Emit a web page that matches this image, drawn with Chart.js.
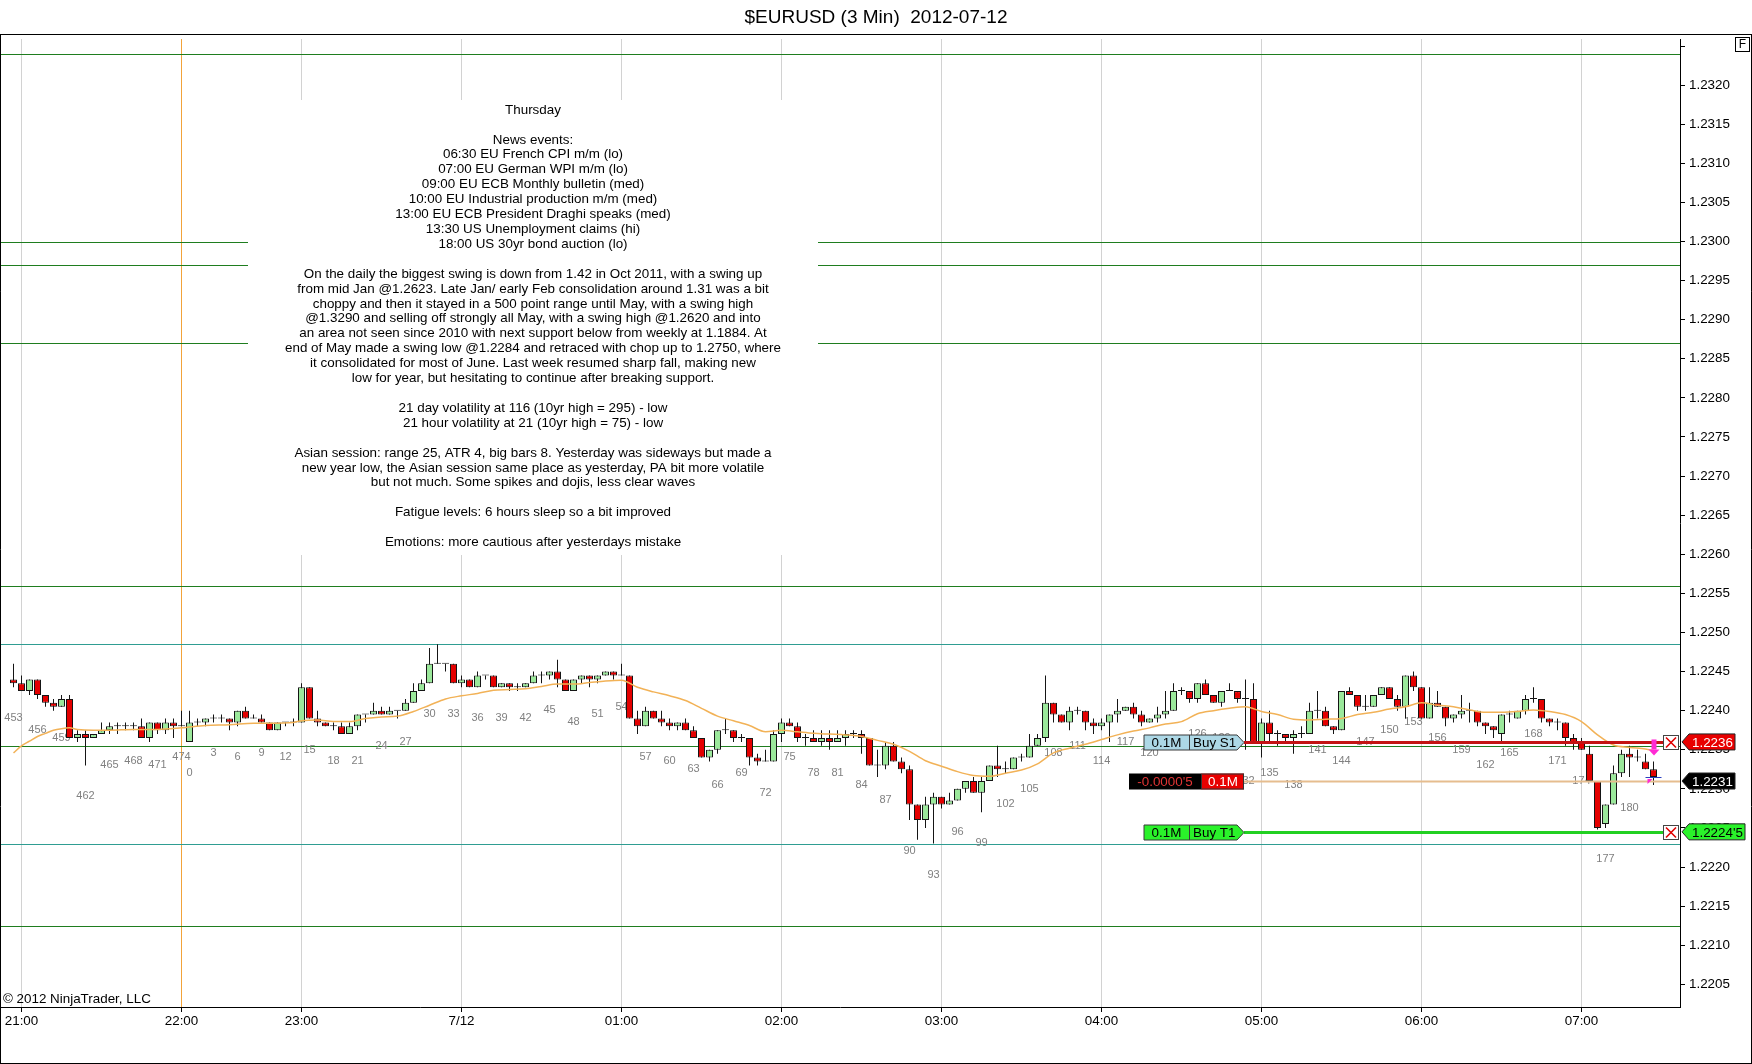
<!DOCTYPE html>
<html>
<head>
<meta charset="utf-8">
<title>$EURUSD (3 Min) 2012-07-12</title>
<script src="https://cdn.jsdelivr.net/npm/chart.js@4.4.1/dist/chart.umd.min.js"></script>
<style>
  html, body { margin: 0; padding: 0; background: #fff; }
  #priceChart { display: block; }
</style>
</head>
<body>
<canvas id="priceChart" width="1752" height="1064"></canvas>
<script>
// 3 minute bars: 22 bars of the old session (numbered 453..474), then the new session from 0
var firstBarIndex = -22;
var firstBarNumber = 453;

var open = [
  1.2244, 1.22435, 1.22425, 1.2244, 1.2242, 1.2241, 1.22405, 1.22415, 1.22365, 1.2237, 1.22365,
  1.2237, 1.22375, 1.2238, 1.2238, 1.2238, 1.2238, 1.22365, 1.22385, 1.22375, 1.22385, 1.2238,
  1.2236, 1.22385, 1.22385, 1.2239, 1.2239, 1.2239, 1.22385, 1.224, 1.2239, 1.2239,
  1.22385, 1.22375, 1.22385, 1.22385, 1.22385, 1.2243, 1.2239, 1.22385, 1.2238, 1.2238,
  1.2237, 1.2238, 1.22395, 1.22395, 1.224, 1.22395, 1.224, 1.224, 1.2241, 1.22425,
  1.22435, 1.2246, 1.2246, 1.2246, 1.22435, 1.2244, 1.2243, 1.22445, 1.22445, 1.2243,
  1.22435, 1.2243, 1.2243, 1.22435, 1.22445, 1.22445, 1.2245, 1.2244, 1.22425, 1.2244,
  1.22445, 1.2244, 1.22445, 1.2245, 1.22445, 1.22445, 1.2239, 1.2238, 1.224, 1.2239,
  1.22385, 1.2238, 1.22385, 1.22375, 1.22365, 1.2234, 1.2235, 1.22375, 1.22375, 1.22365,
  1.22365, 1.2234, 1.22335, 1.22335, 1.2237, 1.22385, 1.2238, 1.22365, 1.22365, 1.2236,
  1.22365, 1.2236, 1.22365, 1.2237, 1.2237, 1.22365, 1.2233, 1.2233, 1.22355, 1.22335,
  1.22325, 1.2228, 1.2226, 1.2228, 1.2229, 1.2228, 1.22285, 1.223, 1.2231, 1.22295,
  1.2231, 1.2233, 1.22325, 1.22325, 1.2234, 1.2234, 1.22355, 1.22365, 1.2241, 1.22395,
  1.22385, 1.224, 1.224, 1.22385, 1.2238, 1.22385, 1.22395, 1.224, 1.22405, 1.22395,
  1.22385, 1.2239, 1.22395, 1.224, 1.22425, 1.22425, 1.22415, 1.22435, 1.2242, 1.2241,
  1.22425, 1.22425, 1.22415, 1.22415, 1.2236, 1.22385, 1.2237, 1.2237, 1.22365, 1.2237,
  1.2237, 1.224, 1.224, 1.2238, 1.22375, 1.22425, 1.2242, 1.22405, 1.22405, 1.2242,
  1.2243, 1.22415, 1.22405, 1.22445, 1.2243, 1.2239, 1.2241, 1.22405, 1.2239, 1.22395,
  1.224, 1.224, 1.22385, 1.2238, 1.2237, 1.22395, 1.2239, 1.224, 1.22415, 1.22415,
  1.2239, 1.22385, 1.22385, 1.22365, 1.2236, 1.22345, 1.2231, 1.22255, 1.2228, 1.2232,
  1.22345, 1.2234, 1.22335, 1.22325
];
var high = [
  1.2246, 1.22445, 1.2244, 1.2244, 1.2242, 1.22415, 1.2242, 1.2242, 1.22375, 1.22375, 1.2237,
  1.22385, 1.22385, 1.22385, 1.22385, 1.22385, 1.2239, 1.22385, 1.22385, 1.2239, 1.2239, 1.224,
  1.224, 1.2239, 1.2239, 1.22395, 1.22395, 1.2239, 1.224, 1.22405, 1.22395, 1.22395,
  1.22385, 1.22385, 1.22385, 1.2239, 1.22435, 1.2243, 1.224, 1.22385, 1.22385, 1.22385,
  1.22385, 1.22395, 1.22395, 1.2241, 1.22405, 1.22405, 1.224, 1.22415, 1.22435, 1.2244,
  1.2248, 1.22485, 1.2246, 1.2246, 1.22445, 1.2244, 1.2245, 1.22445, 1.22445, 1.22435,
  1.22435, 1.22435, 1.22435, 1.2245, 1.2245, 1.2245, 1.22465, 1.2244, 1.2244, 1.22445,
  1.22445, 1.22445, 1.2245, 1.2245, 1.2246, 1.22445, 1.224, 1.22405, 1.224, 1.224,
  1.2239, 1.22385, 1.2239, 1.2238, 1.22365, 1.2235, 1.22375, 1.2239, 1.22375, 1.2237,
  1.22365, 1.22345, 1.2235, 1.22375, 1.2239, 1.2239, 1.22385, 1.2237, 1.22375, 1.22375,
  1.22375, 1.22375, 1.22375, 1.22375, 1.22375, 1.22365, 1.2235, 1.2236, 1.2236, 1.2234,
  1.2233, 1.2228, 1.2229, 1.22295, 1.2229, 1.22295, 1.223, 1.2231, 1.22315, 1.22315,
  1.2233, 1.22355, 1.22335, 1.2234, 1.22345, 1.2237, 1.2237, 1.22445, 1.2241, 1.22395,
  1.22405, 1.22405, 1.224, 1.2239, 1.2239, 1.22395, 1.22415, 1.22405, 1.2241, 1.224,
  1.2239, 1.22405, 1.22425, 1.22435, 1.2243, 1.22425, 1.22435, 1.2244, 1.2242, 1.22425,
  1.22435, 1.22425, 1.2244, 1.22435, 1.2239, 1.224, 1.22375, 1.2237, 1.22375, 1.2238,
  1.2241, 1.22425, 1.22405, 1.2238, 1.22425, 1.2243, 1.2242, 1.2242, 1.2242, 1.2243,
  1.2243, 1.2242, 1.22445, 1.2245, 1.2243, 1.2243, 1.22425, 1.22405, 1.22395, 1.2242,
  1.2241, 1.224, 1.22385, 1.2238, 1.22395, 1.224, 1.224, 1.2242, 1.2243, 1.22415,
  1.2239, 1.2239, 1.22385, 1.2237, 1.22365, 1.22355, 1.2231, 1.2228, 1.2233, 1.2235,
  1.22355, 1.2235, 1.22345, 1.22335
];
var low = [
  1.2243, 1.22425, 1.2242, 1.22415, 1.22405, 1.224, 1.22405, 1.22365, 1.2236, 1.2233, 1.22365,
  1.2237, 1.2237, 1.2237, 1.22375, 1.22375, 1.22365, 1.2236, 1.2237, 1.2237, 1.22365, 1.2238,
  1.2236, 1.2238, 1.2238, 1.22385, 1.22385, 1.22375, 1.2238, 1.2239, 1.2239, 1.22385,
  1.22375, 1.22375, 1.2238, 1.2238, 1.22385, 1.2239, 1.2238, 1.2238, 1.22375, 1.2237,
  1.2237, 1.22375, 1.22385, 1.22395, 1.22395, 1.22395, 1.2239, 1.224, 1.2241, 1.22425,
  1.22435, 1.2246, 1.2245, 1.22435, 1.2243, 1.2243, 1.2243, 1.2244, 1.2243, 1.2243,
  1.22425, 1.22425, 1.2243, 1.22435, 1.22435, 1.2244, 1.2243, 1.22425, 1.22425, 1.22435,
  1.2243, 1.22435, 1.22445, 1.2244, 1.22445, 1.2239, 1.2237, 1.2238, 1.2239, 1.2238,
  1.22375, 1.22375, 1.22375, 1.22365, 1.2234, 1.22335, 1.22345, 1.2237, 1.2236, 1.2236,
  1.2233, 1.2233, 1.22335, 1.22335, 1.2236, 1.2238, 1.2236, 1.22355, 1.2236, 1.22355,
  1.2235, 1.2236, 1.22355, 1.22365, 1.22345, 1.2233, 1.22315, 1.22325, 1.22335, 1.2232,
  1.2226, 1.22235, 1.2225, 1.2223, 1.22275, 1.2228, 1.22285, 1.22295, 1.22295, 1.2227,
  1.2231, 1.22315, 1.2232, 1.22325, 1.22335, 1.2234, 1.22355, 1.2236, 1.22385, 1.22385,
  1.22375, 1.22395, 1.22375, 1.2237, 1.22375, 1.2236, 1.22385, 1.224, 1.2239, 1.2238,
  1.22385, 1.22385, 1.2239, 1.224, 1.2242, 1.2241, 1.2241, 1.2242, 1.2241, 1.22405,
  1.22425, 1.2241, 1.2235, 1.2236, 1.2234, 1.2236, 1.22355, 1.2236, 1.22345, 1.22365,
  1.2237, 1.2239, 1.2238, 1.2237, 1.22375, 1.2242, 1.224, 1.224, 1.22405, 1.2242,
  1.22415, 1.224, 1.2239, 1.22425, 1.2239, 1.2239, 1.22405, 1.2238, 1.22385, 1.2239,
  1.22385, 1.2238, 1.2237, 1.22365, 1.2236, 1.22385, 1.2239, 1.22395, 1.2241, 1.22385,
  1.2238, 1.22375, 1.22355, 1.2235, 1.2235, 1.2231, 1.22248, 1.2225, 1.2228, 1.22315,
  1.22315, 1.22335, 1.22325, 1.22305
];
var close = [
  1.22435, 1.22425, 1.2244, 1.2242, 1.2241, 1.22405, 1.22415, 1.22365, 1.2237, 1.22365, 1.2237,
  1.22375, 1.2238, 1.2238, 1.2238, 1.2238, 1.22365, 1.22385, 1.22375, 1.22385, 1.2238, 1.2238,
  1.22385, 1.22385, 1.2239, 1.2239, 1.2239, 1.22385, 1.224, 1.2239, 1.2239, 1.22385,
  1.22375, 1.22385, 1.22385, 1.22385, 1.2243, 1.2239, 1.22385, 1.2238, 1.2238, 1.2237,
  1.2238, 1.22395, 1.22395, 1.224, 1.22395, 1.224, 1.224, 1.2241, 1.22425, 1.22435,
  1.2246, 1.2246, 1.2246, 1.22435, 1.2244, 1.2243, 1.22445, 1.22445, 1.2243, 1.22435,
  1.2243, 1.2243, 1.22435, 1.22445, 1.22445, 1.2245, 1.2244, 1.22425, 1.2244, 1.22445,
  1.2244, 1.22445, 1.2245, 1.22445, 1.22445, 1.2239, 1.2238, 1.224, 1.2239, 1.22385,
  1.2238, 1.22385, 1.22375, 1.22365, 1.2234, 1.2235, 1.22375, 1.22375, 1.22365, 1.22365,
  1.2234, 1.22335, 1.22335, 1.2237, 1.22385, 1.2238, 1.22365, 1.22365, 1.2236, 1.22365,
  1.2236, 1.22365, 1.2237, 1.2237, 1.22365, 1.2233, 1.2233, 1.22355, 1.22335, 1.22325,
  1.2228, 1.2226, 1.2228, 1.2229, 1.2228, 1.22285, 1.223, 1.2231, 1.22295, 1.2231,
  1.2233, 1.22325, 1.22325, 1.2234, 1.2234, 1.22355, 1.22365, 1.2241, 1.22395, 1.22385,
  1.224, 1.224, 1.22385, 1.2238, 1.22385, 1.22395, 1.224, 1.22405, 1.22395, 1.22385,
  1.2239, 1.22395, 1.224, 1.22425, 1.22425, 1.22415, 1.22435, 1.2242, 1.2241, 1.22425,
  1.22425, 1.22415, 1.22415, 1.2236, 1.22385, 1.2237, 1.2237, 1.22365, 1.2237, 1.2237,
  1.224, 1.224, 1.2238, 1.22375, 1.22425, 1.2242, 1.22405, 1.22405, 1.2242, 1.2243,
  1.22415, 1.22405, 1.22445, 1.2243, 1.2239, 1.2241, 1.22405, 1.2239, 1.22395, 1.224,
  1.224, 1.22385, 1.2238, 1.22375, 1.22395, 1.22395, 1.224, 1.22415, 1.22415, 1.2239,
  1.22385, 1.22385, 1.22365, 1.2236, 1.2235, 1.2231, 1.2225, 1.2228, 1.2232, 1.22345,
  1.2234, 1.2234, 1.22325, 1.22315
];

// moving average
var emaBars = [
  -22, -21, -20, -19, -18, -17, -16, -15, -14, -12, -10, -7, -4, -1, 2, 5, 8, 10, 13, 14,
  16, 18, 20, 22, 24, 26, 28, 30, 32, 34, 36, 38, 40, 42, 44, 46, 48, 50, 52, 54,
  56, 58, 60, 62, 64, 66, 68, 70, 72, 74, 76, 78, 80, 82, 84, 86, 88, 90, 92, 94,
  96, 98, 100, 102, 104, 106, 108, 110, 112, 114, 116, 118, 120, 122, 124, 126, 128, 130, 132, 134,
  136, 138, 140, 142, 144, 146, 148, 150, 152, 154, 156, 158, 160, 162, 164, 166, 168, 170, 172, 174,
  176, 178, 180, 182, 183
];
var emaValues = [
  1.22346, 1.22355, 1.22361, 1.22367, 1.22371, 1.22375, 1.22377, 1.22378, 1.22376, 1.22375,
  1.22375, 1.22376, 1.22376, 1.22378, 1.22381, 1.22382, 1.22384, 1.22384, 1.22385, 1.22387,
  1.22388, 1.22386, 1.22386, 1.2239, 1.22392, 1.22393, 1.22399, 1.22407, 1.22415, 1.22419,
  1.22422, 1.22426, 1.22427, 1.22428, 1.22431, 1.22434, 1.22434, 1.22436, 1.22438, 1.22439,
  1.2243, 1.22424, 1.22419, 1.22413, 1.22403, 1.22393, 1.22387, 1.22381, 1.22373, 1.22375,
  1.22373, 1.22371, 1.2237, 1.22369, 1.22367, 1.22362, 1.22357, 1.22348, 1.22336, 1.22329,
  1.22322, 1.22317, 1.22316, 1.2232, 1.22324, 1.22332, 1.22346, 1.22352, 1.22357, 1.22363,
  1.22369, 1.22374, 1.22378, 1.22383, 1.22386, 1.22396, 1.224, 1.22403, 1.22405, 1.22399,
  1.22395, 1.22389, 1.22388, 1.22389, 1.2239, 1.22395, 1.22398, 1.22402, 1.22405, 1.2241,
  1.22407, 1.22405, 1.22401, 1.22398, 1.22398, 1.22399, 1.22401, 1.22399, 1.22395, 1.22386,
  1.22369, 1.22356, 1.22353, 1.22351, 1.22349
];

var hourTickBars = [-21, -1, 14, 34, 54, 74, 94, 114, 134, 154, 174];
var hourTickLabels = ['21:00', '22:00', '23:00', '7/12', '01:00', '02:00', '03:00', '04:00', '05:00', '06:00', '07:00'];
var sessionBreakBar = -1;

var priceTicks = [
  1.2205, 1.221, 1.2215, 1.222, 1.2225, 1.223, 1.2235, 1.224, 1.2245, 1.225, 1.2255, 1.226,
  1.2265, 1.227, 1.2275, 1.228, 1.2285, 1.229, 1.2295, 1.23, 1.2305, 1.231, 1.2315, 1.232, 1.2325
];

// drawn levels
var greenLevels = [1.2324, 1.2300, 1.2297, 1.2287, 1.2256, 1.22355, 1.22125];
var tealLevels = [1.22485, 1.2223];

// working orders and open position
var stopPrice = 1.2236;
var targetPrice = 1.22245;
var entryPrice = 1.2231;

var noteLines = [
  'Thursday',
  '',
  'News events:',
  '06:30 EU French CPI m/m (lo)',
  '07:00 EU German WPI m/m (lo)',
  '09:00 EU ECB Monthly bulletin (med)',
  '10:00 EU Industrial production m/m (med)',
  '13:00 EU ECB President Draghi speaks (med)',
  '13:30 US Unemployment claims (hi)',
  '18:00 US 30yr bond auction (lo)',
  '',
  'On the daily the biggest swing is down from 1.42 in Oct 2011, with a swing up',
  'from mid Jan @1.2623. Late Jan/ early Feb consolidation around 1.31 was a bit',
  'choppy and then it stayed in a 500 point range until May, with a swing high',
  '@1.3290 and selling off strongly all May, with a swing high @1.2620 and into',
  'an area not seen since 2010 with next support below from weekly at 1.1884. At',
  'end of May made a swing low @1.2284 and retraced with chop up to 1.2750, where',
  'it consolidated for most of June. Last week resumed sharp fall, making new',
  'low for year, but hesitating to continue after breaking support.',
  '',
  '21 day volatility at 116 (10yr high = 295) - low',
  '21 hour volatility at 21 (10yr high = 75) - low',
  '',
  'Asian session: range 25, ATR 4, big bars 8. Yesterday was sideways but made a',
  'new year low, the Asian session same place as yesterday, PA bit more volatile',
  'but not much. Some spikes and dojis, less clear waves',
  '',
  'Fatigue levels: 6 hours sleep so a bit improved',
  '',
  'Emotions: more cautious after yesterdays mistake'
];

var FONT = "'Liberation Sans', Arial, sans-serif";
Chart.defaults.font.family = FONT;
Chart.defaults.font.size = 13.4;
Chart.defaults.color = '#000';

var barIndex = open.map(function(o, i) { return firstBarIndex + i; });
function barNumber(k) { return k < 0 ? k - firstBarIndex + firstBarNumber : k; }

var wickData = barIndex.map(function(k, i) { return { x: k, y: [low[i], high[i]] }; });
var bodyData = barIndex.map(function(k, i) {
    return { x: k, y: [Math.min(open[i], close[i]), Math.max(open[i], close[i])] };
});
var bodyColors = barIndex.map(function(k, i) {
    if (close[i] > open[i]) return '#9be89b';
    if (close[i] < open[i]) return '#e40000';
    return '#111';
});
var emaData = emaBars.map(function(k, i) { return { x: k, y: emaValues[i] }; });

function tagShape(ctx, left, right, y, h, tipRight) {
    ctx.beginPath();
    if (tipRight) {
        ctx.moveTo(left, y - h / 2);
        ctx.lineTo(right - 7, y - h / 2);
        ctx.lineTo(right, y);
        ctx.lineTo(right - 7, y + h / 2);
        ctx.lineTo(left, y + h / 2);
    } else {
        ctx.moveTo(left, y);
        ctx.lineTo(left + 7, y - h / 2);
        ctx.lineTo(right, y - h / 2);
        ctx.lineTo(right, y + h / 2);
        ctx.lineTo(left + 7, y + h / 2);
    }
    ctx.closePath();
}

function orderTag(ctx, right, y, qty, name, fill) {
    var left = right - 100, split = right - 55;
    tagShape(ctx, left, right, y, 15, true);
    ctx.fillStyle = fill;
    ctx.fill();
    ctx.strokeStyle = '#3a3a3a';
    ctx.lineWidth = 1;
    ctx.stroke();
    ctx.beginPath();
    ctx.moveTo(split + 0.5, y - 7.5);
    ctx.lineTo(split + 0.5, y + 7.5);
    ctx.stroke();
    ctx.fillStyle = '#000';
    ctx.textBaseline = 'middle';
    ctx.textAlign = 'center';
    ctx.fillText(qty, (left + split) / 2, y + 1);
    ctx.textAlign = 'left';
    ctx.fillText(name, split + 4, y + 1);
}

function cancelBox(ctx, x, y) {
    ctx.fillStyle = '#fff';
    ctx.fillRect(x, y - 7.5, 16, 15);
    ctx.strokeStyle = '#444';
    ctx.lineWidth = 1;
    ctx.strokeRect(x + 0.5, y - 7, 15, 14);
    ctx.strokeStyle = '#e00000';
    ctx.lineWidth = 1.6;
    ctx.beginPath();
    ctx.moveTo(x + 3, y - 5); ctx.lineTo(x + 13, y + 5);
    ctx.moveTo(x + 13, y - 5); ctx.lineTo(x + 3, y + 5);
    ctx.stroke();
}

function axisTag(ctx, left, width, y, text, fill, textColor) {
    tagShape(ctx, left, left + width, y, 16, false);
    ctx.fillStyle = fill;
    ctx.fill();
    ctx.strokeStyle = '#222';
    ctx.lineWidth = 1;
    ctx.stroke();
    ctx.fillStyle = textColor;
    ctx.font = '13.4px ' + FONT;
    ctx.textAlign = 'left';
    ctx.textBaseline = 'middle';
    ctx.fillText(text, left + 10, y + 1);
}

var ninjaPlugin = {
    id: 'ninjaExtras',
    beforeDatasetsDraw: function(chart) {
        var ctx = chart.ctx, area = chart.chartArea;
        var xs = chart.scales.x, ys = chart.scales.y;
        ctx.save();
        ctx.lineWidth = 1;
        greenLevels.forEach(function(p) {
            var y = Math.round(ys.getPixelForValue(p)) + 0.5;
            ctx.strokeStyle = '#1f7d1f';
            ctx.beginPath(); ctx.moveTo(area.left, y); ctx.lineTo(area.right, y); ctx.stroke();
        });
        tealLevels.forEach(function(p) {
            var y = Math.round(ys.getPixelForValue(p)) + 0.5;
            ctx.strokeStyle = '#2f9d92';
            ctx.beginPath(); ctx.moveTo(area.left, y); ctx.lineTo(area.right, y); ctx.stroke();
        });

        // notes box
        ctx.fillStyle = '#fff';
        ctx.fillRect(248, 100, 570, 455);
        ctx.fillStyle = '#000';
        ctx.font = '13.4px ' + FONT;
        ctx.textAlign = 'center';
        ctx.textBaseline = 'middle';
        noteLines.forEach(function(line, i) {
            ctx.fillText(line, 533, 110 + i * 14.91);
        });

        // bar numbers under every third low (the bar still forming has none)
        ctx.fillStyle = '#808080';
        ctx.font = '11px ' + FONT;
        barIndex.forEach(function(k, i) {
            var n = barNumber(k);
            if (n % 3 !== 0 || i === barIndex.length - 1) return;
            ctx.fillText(String(n), xs.getPixelForValue(k), ys.getPixelForValue(low[i]) + 31);
        });
        ctx.restore();
    },
    afterDatasetsDraw: function(chart) {
        var ctx = chart.ctx, area = chart.chartArea;
        var xs = chart.scales.x, ys = chart.scales.y;
        var tagRight = 1244, cancelX = area.right - 17;
        ctx.save();
        ctx.font = '13.4px ' + FONT;

        var yStop = Math.round(ys.getPixelForValue(stopPrice)) + 0.5;
        var yTarget = Math.round(ys.getPixelForValue(targetPrice)) + 0.5;
        var yEntry = Math.round(ys.getPixelForValue(entryPrice)) + 0.5;

        ctx.lineWidth = 2;
        ctx.strokeStyle = '#e6bd8f';
        ctx.beginPath(); ctx.moveTo(tagRight, yEntry); ctx.lineTo(area.right, yEntry); ctx.stroke();

        ctx.lineWidth = 3;
        ctx.strokeStyle = '#c41414';
        ctx.beginPath(); ctx.moveTo(tagRight, yStop); ctx.lineTo(cancelX, yStop); ctx.stroke();
        ctx.strokeStyle = '#22d022';
        ctx.beginPath(); ctx.moveTo(tagRight, yTarget); ctx.lineTo(cancelX, yTarget); ctx.stroke();

        orderTag(ctx, tagRight, yStop, '0.1M', 'Buy S1', '#add8e6');
        orderTag(ctx, tagRight, yTarget, '0.1M', 'Buy T1', '#2af22a');
        cancelBox(ctx, cancelX, yStop);
        cancelBox(ctx, cancelX, yTarget);

        // position box
        ctx.fillStyle = '#000';
        ctx.fillRect(tagRight - 115, yEntry - 8, 72, 16);
        ctx.fillStyle = '#e80000';
        ctx.fillRect(tagRight - 43, yEntry - 8, 43, 16);
        ctx.strokeStyle = '#333';
        ctx.lineWidth = 1;
        ctx.strokeRect(tagRight - 43 + 0.5, yEntry - 7.5, 42, 15);
        ctx.textBaseline = 'middle';
        ctx.textAlign = 'center';
        ctx.fillStyle = '#e03434';
        ctx.fillText("-0.0000'5", tagRight - 79, yEntry + 1);
        ctx.fillStyle = '#fff';
        ctx.fillText('0.1M', tagRight - 21, yEntry + 1);

        // last bar: sell arrow, fill mark, last price tick
        var last = barIndex.length - 1;
        var xl = xs.getPixelForValue(barIndex[last]);
        var tip = ys.getPixelForValue(high[last]) - 6;
        ctx.fillStyle = '#ff2ad4';
        ctx.fillRect(xl - 2, tip - 16, 5, 10);
        ctx.beginPath();
        ctx.moveTo(xl - 5, tip - 6); ctx.lineTo(xl + 6, tip - 6); ctx.lineTo(xl + 0.5, tip);
        ctx.closePath(); ctx.fill();
        var yl = ys.getPixelForValue(low[last]);
        ctx.beginPath();
        ctx.moveTo(xl - 6, yl - 6); ctx.lineTo(xl - 1, yl - 6); ctx.lineTo(xl - 6, yl - 1);
        ctx.closePath(); ctx.fill();
        var yc = Math.round(ys.getPixelForValue(close[last])) + 0.5;
        ctx.strokeStyle = '#2a3fc0';
        ctx.lineWidth = 1;
        ctx.beginPath(); ctx.moveTo(xl - 8, yc); ctx.lineTo(xl + 8, yc); ctx.stroke();
        ctx.restore();
    },
    afterDraw: function(chart) {
        var ctx = chart.ctx, area = chart.chartArea;
        var ys = chart.scales.y;
        var W = chart.width, H = chart.height;
        ctx.save();
        ctx.strokeStyle = '#000';
        ctx.lineWidth = 1;
        ctx.beginPath();
        ctx.moveTo(0, 34.5); ctx.lineTo(W, 34.5);
        ctx.moveTo(0.5, 34.5); ctx.lineTo(0.5, H);
        ctx.moveTo(0, H - 0.5); ctx.lineTo(W, H - 0.5);
        ctx.moveTo(W - 0.5, 34.5); ctx.lineTo(W - 0.5, H);
        ctx.stroke();

        // F box
        ctx.strokeRect(1735.5, 37.5, 14, 14);
        ctx.fillStyle = '#000';
        ctx.font = '12px ' + FONT;
        ctx.textAlign = 'center';
        ctx.textBaseline = 'middle';
        ctx.fillText('F', 1742.5, 45);

        axisTag(ctx, area.right + 2, 53, ys.getPixelForValue(stopPrice), stopPrice.toFixed(4), '#e80000', '#fff');
        axisTag(ctx, area.right + 2, 53, ys.getPixelForValue(entryPrice), entryPrice.toFixed(4), '#000', '#fff');
        axisTag(ctx, area.right + 2, 63, ys.getPixelForValue(targetPrice), "1.2224'5", '#2af22a', '#000');

        ctx.fillStyle = '#000';
        ctx.font = '13.4px ' + FONT;
        ctx.textAlign = 'left';
        ctx.textBaseline = 'alphabetic';
        ctx.fillText('\u00a9 2012 NinjaTrader, LLC', 3, area.bottom - 4);
        ctx.restore();
    }
};

var priceChart = new Chart(document.getElementById('priceChart').getContext('2d'), {
    type: 'bar',
    data: {
        datasets: [{
            type: 'line',
            label: 'EMA',
            data: emaData,
            borderColor: '#f2b257',
            borderWidth: 1.5,
            pointRadius: 0,
            cubicInterpolationMode: 'monotone',
            order: 1
        }, {
            label: 'Bodies',
            data: bodyData,
            backgroundColor: bodyColors,
            borderColor: '#151515',
            borderWidth: 1,
            borderSkipped: false,
            barThickness: 7,
            minBarLength: 1,
            grouped: false,
            inflateAmount: 0,
            order: 2
        }, {
            label: 'Wicks',
            data: wickData,
            backgroundColor: '#151515',
            borderWidth: 0,
            barThickness: 1,
            grouped: false,
            inflateAmount: 0,
            order: 3
        }]
    },
    options: {
        responsive: false,
        devicePixelRatio: 1,
        animation: false,
        events: [],
        layout: { padding: 0 },
        plugins: {
            legend: { display: false },
            tooltip: { enabled: false },
            title: {
                display: true,
                text: '$EURUSD (3 Min)  2012-07-12',
                color: '#000',
                font: { size: 19, weight: 'normal', family: FONT },
                padding: { top: 6, bottom: 10.2 }
            }
        },
        scales: {
            x: {
                type: 'linear',
                min: -23.6875,
                max: 186.3125,
                offset: false,
                afterBuildTicks: function(scale) {
                    scale.ticks = hourTickBars.map(function(v) { return { value: v }; });
                },
                afterFit: function(scale) { scale.height = 57; },
                ticks: {
                    autoSkip: false,
                    maxRotation: 0,
                    padding: 1,
                    color: '#000',
                    callback: function(value) {
                        var i = hourTickBars.indexOf(value);
                        return i < 0 ? '' : hourTickLabels[i];
                    }
                },
                grid: {
                    offset: false,
                    color: function(c) {
                        return c.tick && c.tick.value === sessionBreakBar ? '#f2a33a' : '#d2d2d2';
                    },
                    tickColor: '#000',
                    tickLength: 5
                },
                border: { color: '#000' }
            },
            y: {
                type: 'linear',
                position: 'right',
                min: 1.22021,
                max: 1.23259,
                afterBuildTicks: function(scale) {
                    scale.ticks = priceTicks.map(function(v) { return { value: v }; });
                },
                afterFit: function(scale) { scale.width = 72; },
                ticks: {
                    padding: 4,
                    color: '#000',
                    callback: function(value) {
                        return value > 1.2322 ? '' : value.toFixed(4);
                    }
                },
                grid: { drawOnChartArea: false, tickLength: 5, tickColor: '#000' },
                border: { color: '#000' }
            }
        }
    },
    plugins: [ninjaPlugin]
});
</script>
</body>
</html>
